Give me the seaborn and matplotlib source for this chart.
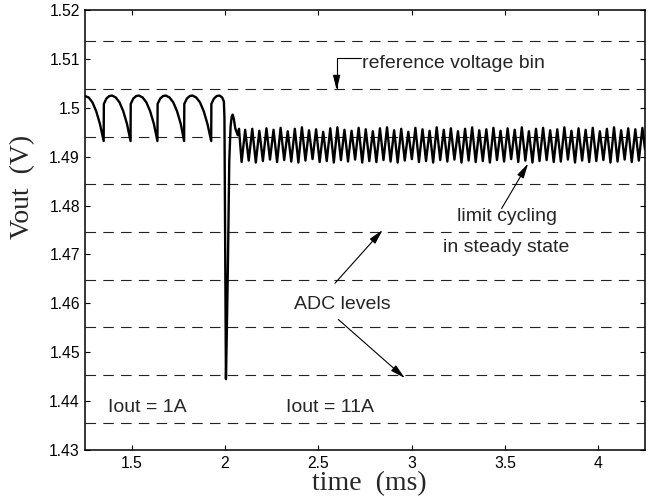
import numpy as np
import pandas as pd
import matplotlib
matplotlib.use("Agg")
import matplotlib.pyplot as plt
import seaborn as sns

# ---------------- data ----------------
# waveform before and through the load step (time in ms, Vout in V)
t_pre = [1.250, 1.270, 1.290, 1.310, 1.330, 1.350,
         1.351, 1.365, 1.380, 1.395, 1.415, 1.435, 1.455, 1.475, 1.494,
         1.495, 1.509, 1.524, 1.539, 1.559, 1.579, 1.599, 1.619, 1.638,
         1.639, 1.653, 1.668, 1.683, 1.703, 1.723, 1.743, 1.763, 1.781,
         1.782, 1.796, 1.811, 1.826, 1.846, 1.866, 1.886, 1.906, 1.926,
         1.927, 1.941, 1.956, 1.971, 1.985, 1.994,
         1.997, 2.001, 2.005, 2.010, 2.016, 2.023, 2.030, 2.036, 2.041,
         2.047, 2.055, 2.068, 2.075]
v_pre = [1.5024, 1.5021, 1.5011, 1.4993, 1.4967, 1.4932,
         1.5008, 1.5019, 1.5024, 1.5025, 1.5021, 1.5011, 1.4993, 1.4967, 1.4932,
         1.5008, 1.5019, 1.5024, 1.5025, 1.5021, 1.5011, 1.4993, 1.4967, 1.4932,
         1.5008, 1.5019, 1.5024, 1.5025, 1.5021, 1.5011, 1.4993, 1.4967, 1.4932,
         1.5008, 1.5019, 1.5024, 1.5025, 1.5021, 1.5011, 1.4993, 1.4967, 1.4932,
         1.5008, 1.5019, 1.5024, 1.5025, 1.5021, 1.5013,
         1.4980, 1.4700, 1.4445, 1.4546, 1.4689, 1.4893, 1.4962, 1.4982, 1.4986,
         1.4978, 1.4958, 1.4944, 1.4957]

# limit cycling in steady state: troughs and peaks
t_trough = [2.089, 2.127, 2.165, 2.203, 2.241, 2.279, 2.317, 2.355, 2.393, 2.431,
            2.469, 2.507, 2.545, 2.583, 2.621, 2.659, 2.697, 2.735, 2.773, 2.811,
            2.849, 2.887, 2.925, 2.963, 3.001, 3.039, 3.077, 3.115, 3.153, 3.191,
            3.229, 3.267, 3.305, 3.343, 3.381, 3.419, 3.457, 3.495, 3.533, 3.571,
            3.609, 3.647, 3.685, 3.723, 3.761, 3.799, 3.837, 3.875, 3.913, 3.951,
            3.989, 4.027, 4.065, 4.103, 4.141, 4.179, 4.217]
v_trough = [1.4889, 1.4892, 1.4888, 1.4891, 1.4894, 1.4889, 1.4893, 1.4890, 1.4888, 1.4892,
            1.4895, 1.4889, 1.4891, 1.4888, 1.4893, 1.4890, 1.4894, 1.4888, 1.4891, 1.4889,
            1.4893, 1.4890, 1.4888, 1.4892, 1.4895, 1.4889, 1.4891, 1.4888, 1.4893, 1.4890,
            1.4894, 1.4888, 1.4892, 1.4889, 1.4891, 1.4888, 1.4893, 1.4890, 1.4895, 1.4889,
            1.4892, 1.4888, 1.4891, 1.4893, 1.4889, 1.4890, 1.4894, 1.4888, 1.4892, 1.4889,
            1.4891, 1.4893, 1.4888, 1.4890, 1.4894, 1.4889, 1.4892]
t_peak = [2.108, 2.146, 2.184, 2.222, 2.260, 2.298, 2.336, 2.374, 2.412, 2.450,
          2.488, 2.526, 2.564, 2.602, 2.640, 2.678, 2.716, 2.754, 2.792, 2.830,
          2.868, 2.906, 2.944, 2.982, 3.020, 3.058, 3.096, 3.134, 3.172, 3.210,
          3.248, 3.286, 3.324, 3.362, 3.400, 3.438, 3.476, 3.514, 3.552, 3.590,
          3.628, 3.666, 3.704, 3.742, 3.780, 3.818, 3.856, 3.894, 3.932, 3.970,
          4.008, 4.046, 4.084, 4.122, 4.160, 4.198, 4.236]
v_peak = [1.4955, 1.4957, 1.4953, 1.4958, 1.4955, 1.4959, 1.4952, 1.4957, 1.4960, 1.4954,
          1.4956, 1.4951, 1.4958, 1.4960, 1.4955, 1.4953, 1.4959, 1.4956, 1.4952, 1.4958,
          1.4960, 1.4954, 1.4957, 1.4951, 1.4959, 1.4956, 1.4953, 1.4960, 1.4955, 1.4958,
          1.4952, 1.4957, 1.4960, 1.4954, 1.4956, 1.4959, 1.4953, 1.4958, 1.4955, 1.4960,
          1.4952, 1.4957, 1.4959, 1.4954, 1.4956, 1.4960, 1.4953, 1.4958, 1.4955, 1.4959,
          1.4952, 1.4957, 1.4960, 1.4954, 1.4958, 1.4956, 1.4959]
t_end = [4.250]
v_end = [1.4915]

# ADC quantisation levels (dashed)
adc_levels = [1.5137, 1.5039, 1.4941, 1.4844, 1.4746, 1.4648, 1.4551, 1.4453, 1.4355]

x_ticks = [1.5, 2, 2.5, 3, 3.5, 4]
x_ticklabels = ["1.5", "2", "2.5", "3", "3.5", "4"]
y_ticks = [1.43, 1.44, 1.45, 1.46, 1.47, 1.48, 1.49, 1.50, 1.51, 1.52]
y_ticklabels = ["1.43", "1.44", "1.45", "1.46", "1.47", "1.48", "1.49", "1.5", "1.51", "1.52"]

# ---------------- build table ----------------
t_all = np.array(t_pre + t_trough + t_peak + t_end)
v_all = np.array(v_pre + v_trough + v_peak + v_end)
order = np.argsort(t_all, kind="stable")
df = pd.DataFrame({"time": t_all[order], "vout": v_all[order]})

# ---------------- style ----------------
sns.set_style("ticks")
plt.rcParams["font.family"] = ["Liberation Sans", "DejaVu Sans"]

fig = plt.figure(figsize=(6.51, 5.04), dpi=100)
ax = fig.add_axes([85 / 651, 1 - 450 / 504, 560 / 651, 440 / 504])

for lv in adc_levels:
    ax.axhline(lv, color="#222222", lw=0.8, dashes=(9.5, 6.5), zorder=1)

sns.lineplot(data=df, x="time", y="vout", sort=False, estimator=None,
             color="black", lw=1.7, ax=ax, zorder=3)

ax.set_xlim(1.25, 4.25)
ax.set_ylim(1.43, 1.52)
ax.set_xticks(x_ticks)
ax.set_xticklabels(x_ticklabels)
ax.set_yticks(y_ticks)
ax.set_yticklabels(y_ticklabels)
ax.tick_params(direction="in", length=3.6, width=0.8, top=True, right=True,
               labelsize=11.3, colors="black")
ax.tick_params(axis="y", pad=3.6)
ax.tick_params(axis="x", pad=4.2)
for sp in ax.spines.values():
    sp.set_visible(True)
    sp.set_linewidth(1.1)
    sp.set_color("black")

ax.set_xlabel("time  (ms)", family=["Liberation Serif"], fontsize=20)
ax.set_ylabel("Vout  (V)", family=["Liberation Serif"], fontsize=20)
ax.xaxis.set_label_coords((369.5 - 85) / 560, -(471 - 450) / 440)
ax.yaxis.set_label_coords((35 - 85) / 560, (450 - 187) / 440)

# ---------------- annotations ----------------
fs = 14
ax.text(2.734, 1.5082, "reference voltage bin", fontsize=fs, va="baseline", ha="left")
ax.annotate("", xy=(2.598, 1.5036), xytext=(2.729, 1.5101),
            arrowprops=dict(arrowstyle="-|>,head_length=0.9,head_width=0.22",
                            connectionstyle="angle,angleA=0,angleB=90,rad=0",
                            color="black", lw=0.8, shrinkA=0, shrinkB=0))

ax.text(3.509, 1.4768, "limit cycling", fontsize=fs, va="baseline", ha="center")
ax.text(3.509, 1.4704, "in steady state", fontsize=fs, va="baseline", ha="center")
ax.annotate("", xy=(3.624, 1.4886), xytext=(3.482, 1.4794),
            arrowprops=dict(arrowstyle="-|>,head_length=0.9,head_width=0.22",
                            color="black", lw=0.8, shrinkA=0, shrinkB=0))

ax.text(2.371, 1.4588, "ADC levels", fontsize=fs, va="baseline", ha="left")
ax.annotate("", xy=(2.8445, 1.4750), xytext=(2.589, 1.4641),
            arrowprops=dict(arrowstyle="-|>,head_length=0.9,head_width=0.22",
                            color="black", lw=0.8, shrinkA=0, shrinkB=0))
ax.annotate("", xy=(2.964, 1.4447), xytext=(2.607, 1.4567),
            arrowprops=dict(arrowstyle="-|>,head_length=0.9,head_width=0.22",
                            color="black", lw=0.8, shrinkA=0, shrinkB=0))

ax.text(1.375, 1.4378, "Iout = 1A", fontsize=fs, va="baseline", ha="left")
ax.text(2.3266, 1.4378, "Iout = 11A", fontsize=fs, va="baseline", ha="left")

fig.savefig("out.png", dpi=100)
